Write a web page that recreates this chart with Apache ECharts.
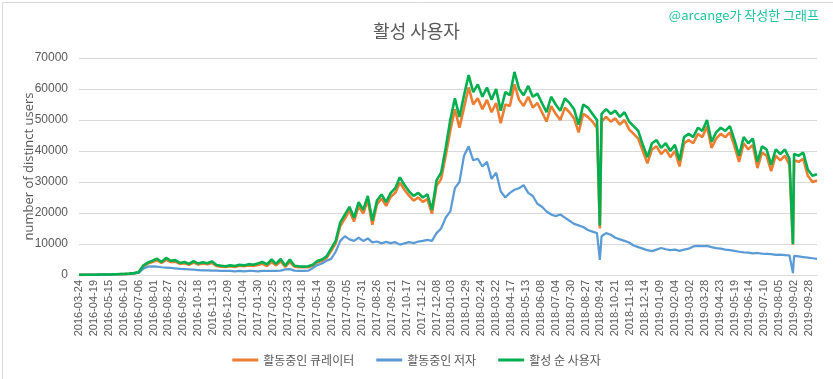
<!DOCTYPE html>
<html>
<head>
<meta charset="utf-8">
<script src="https://cdn.jsdelivr.net/npm/echarts@6/dist/echarts.min.js"></script>
<style>
html,body{margin:0;padding:0;background:#fff;}
#chart{width:833px;height:379px;}
</style>
</head>
<body>
<div id="chart"></div>
<script>
// Tick labels (one every 26 data rows)
const tickLabels = [
  '2016-03-24','2016-04-19','2016-05-15','2016-06-10','2016-07-06','2016-08-01','2016-08-27','2016-09-22','2016-10-18','2016-11-13',
  '2016-12-09','2017-01-04','2017-01-30','2017-02-25','2017-03-23','2017-04-18','2017-05-14','2017-06-09','2017-07-05','2017-07-31',
  '2017-08-26','2017-09-21','2017-10-17','2017-11-12','2017-12-08','2018-01-03','2018-01-29','2018-02-24','2018-03-22','2018-04-17',
  '2018-05-13','2018-06-08','2018-07-04','2018-07-30','2018-08-27','2018-09-24','2018-10-21','2018-11-18','2018-12-14','2019-01-09',
  '2019-02-04','2019-03-02','2019-03-28','2019-04-23','2019-05-19','2019-06-14','2019-07-10','2019-08-05','2019-09-02','2019-09-28'
];
const rowsPerTick = 26;
const totalRows = 1289;
const sampleStep = 8; // one value read every 8 rows

const curators = [
  40,50,70,90,110,140,170,190,240,280,330,420,560,850,
  2800,3700,4200,4700,3900,4900,4200,4300,3600,3800,3300,4000,3400,3700,3500,3900,
  2900,2700,2600,2800,2600,3000,2800,3100,2900,3200,3600,2900,4200,3100,4400,2600,4200,2700,2500,2500,2500,
  3000,4100,4500,5500,7800,10200,15800,18200,
  20800,17300,22200,19800,24200,16200,22800,24700,22300,25200,26500,29800,27500,25600,24000,25000,23600,24500,19800,28800,31000,
  38500,46500,53500,47500,54000,60500,55000,57000,53500,56500,52500,55500,49000,55000,54500,61500,56500,54500,57500,54000,
  55500,52500,49500,54500,52000,50000,54000,52500,50500,46000,52000,51000,49500,47500,49500,51000,49500,50500,48500,50000,47000,45500,44000,40000,36000,
  40500,41500,39000,40500,38000,40000,35000,42500,43500,42500,45500,44500,48000,41000,44000,45500,44500,46000,41500,36500,42500,40500,42000,34500,39500,38500,33500,38500,37000,38500,35500,37000,36500,37500,32000,30000,30500
];
const authors = [
  40,50,70,90,110,130,150,180,220,260,300,
  380,500,700,2000,2700,2800,2700,2500,2400,2300,
  2100,2000,1900,1800,1700,1600,1500,1500,1400,1400,
  1300,1300,1300,1200,1300,1200,1300,1300,1200,1300,
  1300,1300,1300,1400,1800,1900,1400,1300,1300,1400,
  2200,3200,3700,4600,5200,7500,11000,12500,11500,11000,
  12000,11000,11800,10500,10800,10200,10700,10300,10600,9800,
  10200,10600,10300,10800,11000,11300,11000,13500,15000,18500,
  20500,28000,30000,38500,41500,37000,37500,35000,36500,31000,
  33000,27000,25000,26500,27500,28000,29000,26500,25500,23000,
  22000,20500,19500,19000,19500,18500,17500,16500,16000,15500,
  14500,14000,13500,12500,13500,13000,12000,11500,11000,10500,
  9500,9000,8500,8000,7700,8200,8700,8300,8000,8200,
  7800,8200,8500,9200,9400,9300,9400,9000,8700,8500,
  8200,8000,7800,7500,7300,7200,7000,7100,6900,6800,
  6700,6500,6600,6400,6300,6200,6000,5800,5600,5400,5200
];
const activeUsers = [
  50,60,80,100,120,150,180,200,250,300,350,
  450,600,900,3000,4000,4600,5300,4200,5500,4600,
  4800,3900,4200,3600,4500,3700,4100,3800,4400,3200,
  3000,2800,3100,2900,3300,3100,3500,3300,3700,4200,
  3400,5000,3600,5200,3000,5000,3000,2800,2700,2800,
  3300,4500,5000,6000,8500,11000,17000,19500,22000,18500,
  23500,21000,25500,17500,24000,26000,23500,26500,28000,31500,
  29000,27000,25500,26500,25000,26000,21000,30500,33000,41000,
  50000,57000,51000,58000,64500,59000,61500,57500,60500,56500,
  60000,53000,59000,58000,65500,60000,58000,61000,57500,58500,
  55500,52500,57500,55000,53000,57000,55500,53500,48500,55000,
  54000,52000,50000,52000,53500,52000,53000,51000,52500,49500,
  48000,46500,42000,38000,
  42500,43500,41000,42500,40000,42000,37000,44500,45500,44500,47500,46500,50000,43000,46000,47500,46500,48000,43500,38500,44500,42500,44000,36500,41500,40500,35500,40500,39000,40500,37500,39000,38500,39500,34000,32000,32500
];
// single-day drops
const dipRows = [909, 1246];
const dipCurators = [15000, 9800];
const dipAuthors = [4900, 600];
const dipActive = [16000, 10000];

const seriesNames = ['활동중인 큐레이터', '활동중인 저자', '활성 순 사용자'];
const seriesColors = ['#ED7D31', '#5B9BD5', '#00B050'];

const categories = [];
for (let r = 0; r < totalRows; r++) {
  const t = Math.floor(r / rowsPerTick);
  categories.push(r % rowsPerTick === 0 ? tickLabels[t] : tickLabels[t] + '+' + (r % rowsPerTick));
}
function build(vals, dips) {
  const pts = vals.map((v, i) => [i * sampleStep, v]);
  dipRows.forEach((r, k) => pts.push([r, dips[k]]));
  pts.sort((a, b) => a[0] - b[0]);
  return pts;
}
const data = [build(curators, dipCurators), build(authors, dipAuthors), build(activeUsers, dipActive)];

const chart = echarts.init(document.getElementById('chart'));
const font = 'Liberation Sans, Noto Sans CJK KR, sans-serif';
chart.setOption({
  animation: false,
  backgroundColor: '#fff',
  title: {
    text: '활성 사용자', left: 'center', top: 17,
    textStyle: { fontFamily: 'Noto Sans CJK KR', fontWeight: 'normal', fontSize: 18, color: '#595959' }
  },
  graphic: [
    { type: 'text', right: 14, top: 9, style: { text: '@arcange가 작성한 그래프', fill: '#1DC4A0', font: '13px Noto Sans CJK KR' } },
    { type: 'rect', left: 0, top: 0, shape: { x: 0.5, y: 0.5, width: 832, height: 378 }, style: { fill: 'none', stroke: '#d9d9d9', lineWidth: 1 }, silent: true, z: -1 }
  ],
  legend: {
    bottom: 8, left: 'center', itemGap: 22, itemWidth: 26, itemHeight: 3, icon: 'rect',
    textStyle: { fontFamily: 'Noto Sans CJK KR', fontSize: 12, color: '#595959' },
    data: seriesNames
  },
  grid: { left: 79, right: 16, top: 58, bottom: 104 },
  xAxis: {
    type: 'category', data: categories, boundaryGap: false,
    axisLine: { lineStyle: { color: '#d9d9d9' } },
    axisTick: { show: false },
    axisLabel: { interval: rowsPerTick - 1, rotate: 90, margin: 5, fontFamily: font, fontSize: 11, color: '#595959' },
    splitLine: { show: false }
  },
  yAxis: {
    type: 'value', min: 0, max: 70000, interval: 10000,
    name: 'number of distinct users', nameLocation: 'middle', nameGap: 43, nameMoveOverlap: false,
    nameTextStyle: { fontFamily: 'Open Sans', fontSize: 13, color: '#595959' },
    axisLine: { show: false }, axisTick: { show: false },
    axisLabel: { margin: 11, fontFamily: font, fontSize: 12, color: '#595959', formatter: v => String(v) },
    splitLine: { lineStyle: { color: '#d9d9d9' } }
  },
  series: seriesNames.map((n, k) => ({
    name: n, type: 'line', data: data[k], showSymbol: false, symbol: 'none',
    lineStyle: { width: k === 1 ? 2.25 : 2.6, color: seriesColors[k] },
    itemStyle: { color: seriesColors[k] }
  }))
});
</script>
</body>
</html>
